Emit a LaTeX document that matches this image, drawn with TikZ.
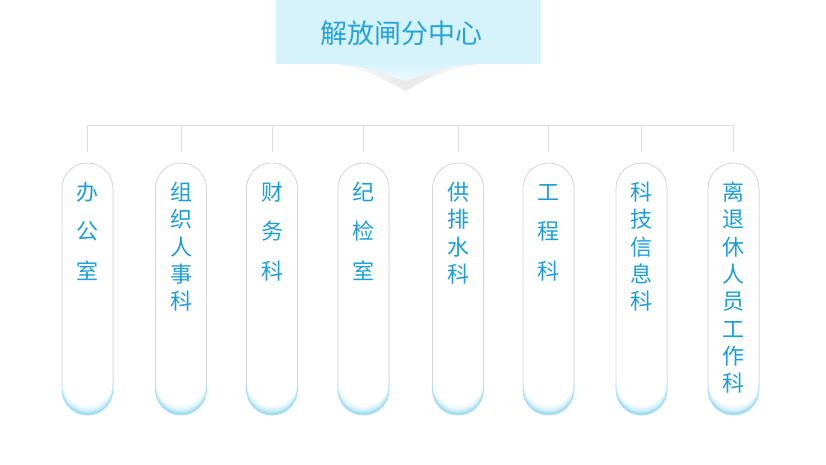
\documentclass[tikz,border=0pt]{standalone}
\usepackage{fontspec}
\newfontfamily\cjk{Noto Sans CJK SC}
\usetikzlibrary{fadings,calc}
\definecolor{txtblue}{RGB}{28,158,218}
\definecolor{titleblue}{RGB}{36,163,222}
\definecolor{titlebg}{RGB}{214,243,252}
\definecolor{capblue}{RGB}{150,218,240}
\definecolor{linegray}{RGB}{224,224,224}
\definecolor{pillgray}{RGB}{214,214,214}
\definecolor{shadowgray}{RGB}{232,232,232}
\tikzfading[name=midfade, left color=transparent!100, right color=transparent!100, middle color=transparent!0]
\tikzset{
  pillbox/.style={minimum width=51pt, minimum height=252pt, inner sep=0pt, outer sep=0pt},
  chr/.style={anchor=base, inner sep=0pt, text=txtblue, font=\cjk\fontsize{22}{22}\selectfont},
  conn/.style={draw=linegray, line width=0.9pt},
  pillrim/.style={draw=pillgray, line width=0.8pt},
  caprim/.style={draw=capblue!80!white, line width=0.8pt},
}
\newcommand\mkpill[4]{%
  \node[pillbox] (#1) at (#2,289) {};
  \fill[capblue, rounded corners=25.4pt] (#1.north west) rectangle (#1.south east);
  \begin{scope}
    \clip[rounded corners=25.4pt] (#1.north west) rectangle (#1.south east);
    \foreach \o/\w in {1.5/75,3/50,4.5/30,6.5/14,9/0} {
      \fill[capblue!\w!white, rounded corners=25.4pt] ([yshift=\o pt]#1.north west) rectangle ([yshift=\o pt]#1.south east);
    }
  \end{scope}
  \begin{scope}
    \clip ([xshift=-2pt,yshift=2pt]#1.north west) rectangle ([xshift=2pt,yshift=30pt]#1.south east);
    \draw[pillrim, rounded corners=25.4pt] (#1.north west) rectangle (#1.south east);
  \end{scope}
  \begin{scope}
    \clip ([xshift=-2pt,yshift=30pt]#1.south west) rectangle ([xshift=2pt,yshift=-2pt]#1.south east);
    \draw[caprim, rounded corners=25.4pt] (#1.north west) rectangle (#1.south east);
  \end{scope}
  \foreach \c [count=\i] in {#4} {
    \node[chr] (#1c\i) at ($(#1.north)+(0,{37.5+(\i-1)*#3})$) {\c};
  }%
}
\begin{document}
\begin{tikzpicture}[x=1pt,y=-1pt]
\useasboundingbox (0,0) rectangle (826,464);
\fill[white] (0,0) rectangle (826,464);
% title shadow and pointer
\fill[shadowgray, path fading=midfade] (335,64) .. controls (370,72) .. (405,91) .. controls (440,72) .. (482,64) -- cycle;
\node[fill=titlebg, minimum width=265pt, minimum height=63.5pt, inner sep=0pt] (title) at (408.5,31.75) {};
\shade[top color=titlebg, bottom color=titlebg!45!white] (327,63) .. controls (365,67) .. (405,81) .. controls (445,67) .. (491,63) -- cycle;
\node[anchor=base, inner sep=0pt, text=titleblue, font=\cjk\fontsize{27}{27}\selectfont] (titletext) at (401,43) {解放闸分中心};
% pills
\mkpill{p1}{87.5}{39.3}{办,公,室}
\mkpill{p2}{181}{27.3}{组,织,人,事,科}
\mkpill{p3}{272}{39.3}{财,务,科}
\mkpill{p4}{363.5}{39.3}{纪,检,室}
\mkpill{p5}{458}{27.3}{供,排,水,科}
\mkpill{p6}{548.5}{39.3}{工,程,科}
\mkpill{p7}{641.5}{27.3}{科,技,信,息,科}
\mkpill{p8}{733.5}{27.3}{离,退,休,人,员,工,作,科}
% connectors
\coordinate (bus) at (0,125);
\foreach \k in {1,...,8} {
  \coordinate (b\k) at (p\k.north |- bus);
  \draw[conn] (b\k) -- ([yshift=11pt]p\k.north);
}
\draw[conn] (b1) -- (b8);
\end{tikzpicture}
\end{document}
